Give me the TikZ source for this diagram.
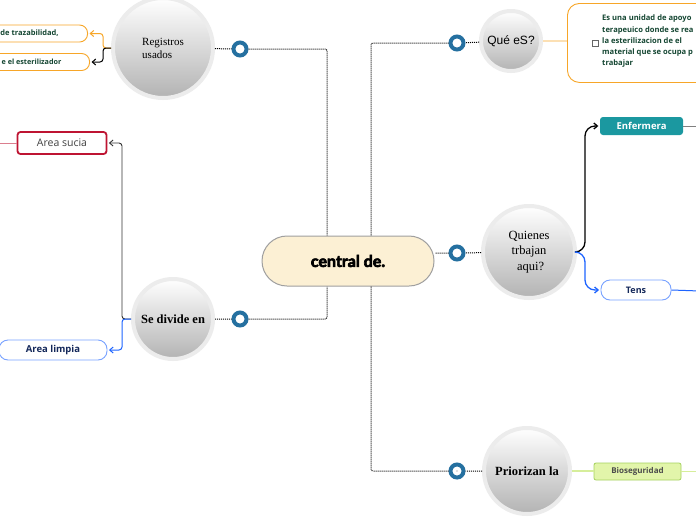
\documentclass[tikz,border=0pt]{standalone}
\usepackage{fontspec}
\setmainfont{Open Sans}
\newfontfamily\bubblefont{Liberation Serif}
\newfontfamily\quefont{Liberation Sans}
\newfontfamily\centralfont{Lato}[FakeBold=4, BoldFeatures={FakeBold=4}]
\definecolor{mmcream}{RGB}{252,240,212}
\definecolor{mmring}{RGB}{37,112,160}
\definecolor{mmorange}{RGB}{247,166,40}
\definecolor{mmteal}{RGB}{27,152,160}
\definecolor{mmblue}{RGB}{30,100,255}
\definecolor{mmred}{RGB}{190,20,50}
\definecolor{mmgreen}{RGB}{226,245,170}
\definecolor{mmgreenline}{RGB}{165,210,95}
\definecolor{mmtext}{RGB}{20,70,50}
\definecolor{mmnavy}{RGB}{20,40,90}
\usetikzlibrary{arrows.meta,positioning}

\begin{document}
\begin{tikzpicture}[x=1pt, y=-1pt,
  bubble/.style={circle, draw=gray!15, line width=4pt, top color=white, bottom color=gray!60,
                 inner sep=0pt, minimum size=#1, align=center},
  ring/.style={circle, draw=mmring, line width=4pt, fill=white, minimum size=13pt, inner sep=0pt},
  link/.style={densely dotted, line width=1pt, rounded corners=2pt},
  tip/.style={-{Straight Barb[length=3.5pt,width=6pt]}, shorten >=1.5pt, rounded corners=#1},
  orangebox/.style={draw=mmorange, line width=0.9pt, fill=white, rounded corners=8pt, anchor=east,
                    minimum width=116pt, minimum height=17pt, inner sep=0pt, text=mmtext,
                    font=\bfseries\fontsize{7.5}{8}\selectfont},
  pillbox/.style={draw=mmblue!60, line width=0.9pt, fill=white, rounded corners=9pt, inner sep=0pt,
                  minimum height=20pt, text=mmnavy}]

\clip (0,0) rectangle (696,520);
\fill[white] (0,0) rectangle (696,520);

% --- Central topic ---
\node[draw=gray!75, line width=1pt, fill=mmcream, rounded corners=25pt, minimum width=172pt,
      minimum height=50pt, font=\centralfont\bfseries\fontsize{16}{18}\selectfont] (central) at (348,261) {central de.};

% --- Rings and bubbles ---
\node[ring] (ringReg) at (240,49) {};
\node[ring] (ringDiv) at (240,319) {};
\node[ring] (ringQue) at (457,43) {};
\node[ring] (ringQuien) at (457,253) {};
\node[ring] (ringPri) at (457,471) {};

\node[bubble=100pt, align=left, font=\bubblefont\fontsize{11}{13}\selectfont] (reg) at (163,48) {Registros\\usados};
\node[bubble=80pt, font=\bubblefont\bfseries\fontsize{12.5}{13}\selectfont] (divide) at (173,319) {Se divide en};
\node[bubble=60pt, font=\quefont\fontsize{12}{13}\selectfont] (que) at (511,41) {Qué eS?};
\node[bubble=92pt, font=\bubblefont\fontsize{12.5}{15.5}\selectfont] (quien) at (529,252) {Quienes\\trbajan\\\ aqui?};
\node[bubble=86pt, font=\bubblefont\bfseries\fontsize{12.5}{13}\selectfont] (pri) at (527,471) {Priorizan la};

% --- Dotted links to central ---
\draw[link] (reg) -- (ringReg) -| ([xshift=-21pt]central.north);
\draw[link] (divide) -- (ringDiv) -| ([xshift=-21pt]central.south);
\draw[link] (que) -- (ringQue) -| ([xshift=23pt]central.north);
\draw[link] (pri) -- (ringPri) -| ([xshift=23pt]central.south);
\draw[link] (quien) -- (ringQuien) -- ([yshift=8pt]central.east);
\fill[gray] (ringPri) circle (0.6pt);

% --- Registros usados ---
\node[orangebox] (traz) at (88,33.5) {de trazabilidad,};
\node[orangebox, font=\bfseries\fontsize{7.2}{8}\selectfont] (ester) at (90,62) {e el esterilizador};
\draw[mmorange, line width=1pt, tip=3pt] (reg.west) -- ++(-8,0) |- (traz.east);
\draw[black, line width=1pt, tip=3pt] (reg.west) -- ++(-8,0) |- (ester.east);

% --- Se divide en ---
\node[draw=mmred, line width=1.8pt, fill=white, rounded corners=3pt, minimum width=89pt, minimum height=22pt,
      text=black!75, font=\fontsize{10.5}{12}\selectfont] (sucia) at (62,143) {Area sucia};
\node[pillbox, minimum width=108pt, font=\bfseries\fontsize{9.5}{11}\selectfont] (limpia) at (53,350) {Area limpia};
\coordinate (suciaEnd) at (-5,143);
\draw[mmred!55, line width=1pt] (sucia.west) -- (suciaEnd);
\draw[black!80, line width=0.9pt, tip=3pt] (divide.west) -- ++(-9,0) |- (sucia.east);
\draw[mmblue, line width=1pt, tip=3pt] (divide.west) -- ++(-9,0) |- (limpia.east);

% --- Qué es? ---
\node[draw=mmorange, line width=0.9pt, fill=white, rounded corners=12pt, anchor=north west,
      minimum width=200pt, minimum height=79pt] (def) at (567,3) {};
\node[anchor=north west, align=left, inner sep=0pt, text=mmtext,
      font=\bfseries\fontsize{7.6}{11.2}\selectfont] (defText) at (602,15) {Es una unidad de apoyo\\terapeuico donde se rea\\la esterilizacion de el\\material que se ocupa p\\trabajar};
\node[draw=black!60, line width=0.5pt, minimum size=6.5pt, inner sep=0pt] (check) at (595,43) {};
\draw[mmorange!35, line width=1.5pt] (que.east) -- (que.east -| def.west);

% --- Quienes trbajan aqui? ---
\node[fill=mmteal, rounded corners=3pt, minimum width=83pt, minimum height=18pt, inner sep=0pt,
      text=white, font=\bfseries\fontsize{9.5}{10}\selectfont] (enf) at (641.5,126) {Enfermera};
\node[pillbox, minimum width=70pt, font=\bfseries\fontsize{9}{10}\selectfont] (tens) at (636,290) {Tens};
\coordinate (enfEnd) at (700,126);
\coordinate (tensEnd) at (700,291);
\draw[black!50, line width=0.8pt] (enf.east) -- (enfEnd);
\draw[mmblue, line width=1pt] (tens.east) -- (tensEnd);
\draw[black, line width=1.3pt, tip=10pt] (quien.east) -- ++(8,0) |- (enf.west);
\draw[mmblue, line width=1.3pt, tip=10pt] (quien.east) -- ++(8,0) |- (tens.west);

% --- Priorizan la ---
\node[draw=mmgreenline, line width=0.8pt, fill=mmgreen, rounded corners=2pt, minimum width=87pt,
      minimum height=17pt, inner sep=0pt, text=black!70,
      font=\bfseries\fontsize{8}{9}\selectfont] (bio) at (637.5,471.5) {Bioseguridad};
\coordinate (bioEnd) at (700,471.5);
\draw[mmgreen!80!mmgreenline, line width=1.5pt] (pri.east) -- (pri.east -| bio.west);
\draw[mmgreen!80!mmgreenline, line width=1.5pt] (bio.east) -- (bioEnd);

\end{tikzpicture}
\end{document}
